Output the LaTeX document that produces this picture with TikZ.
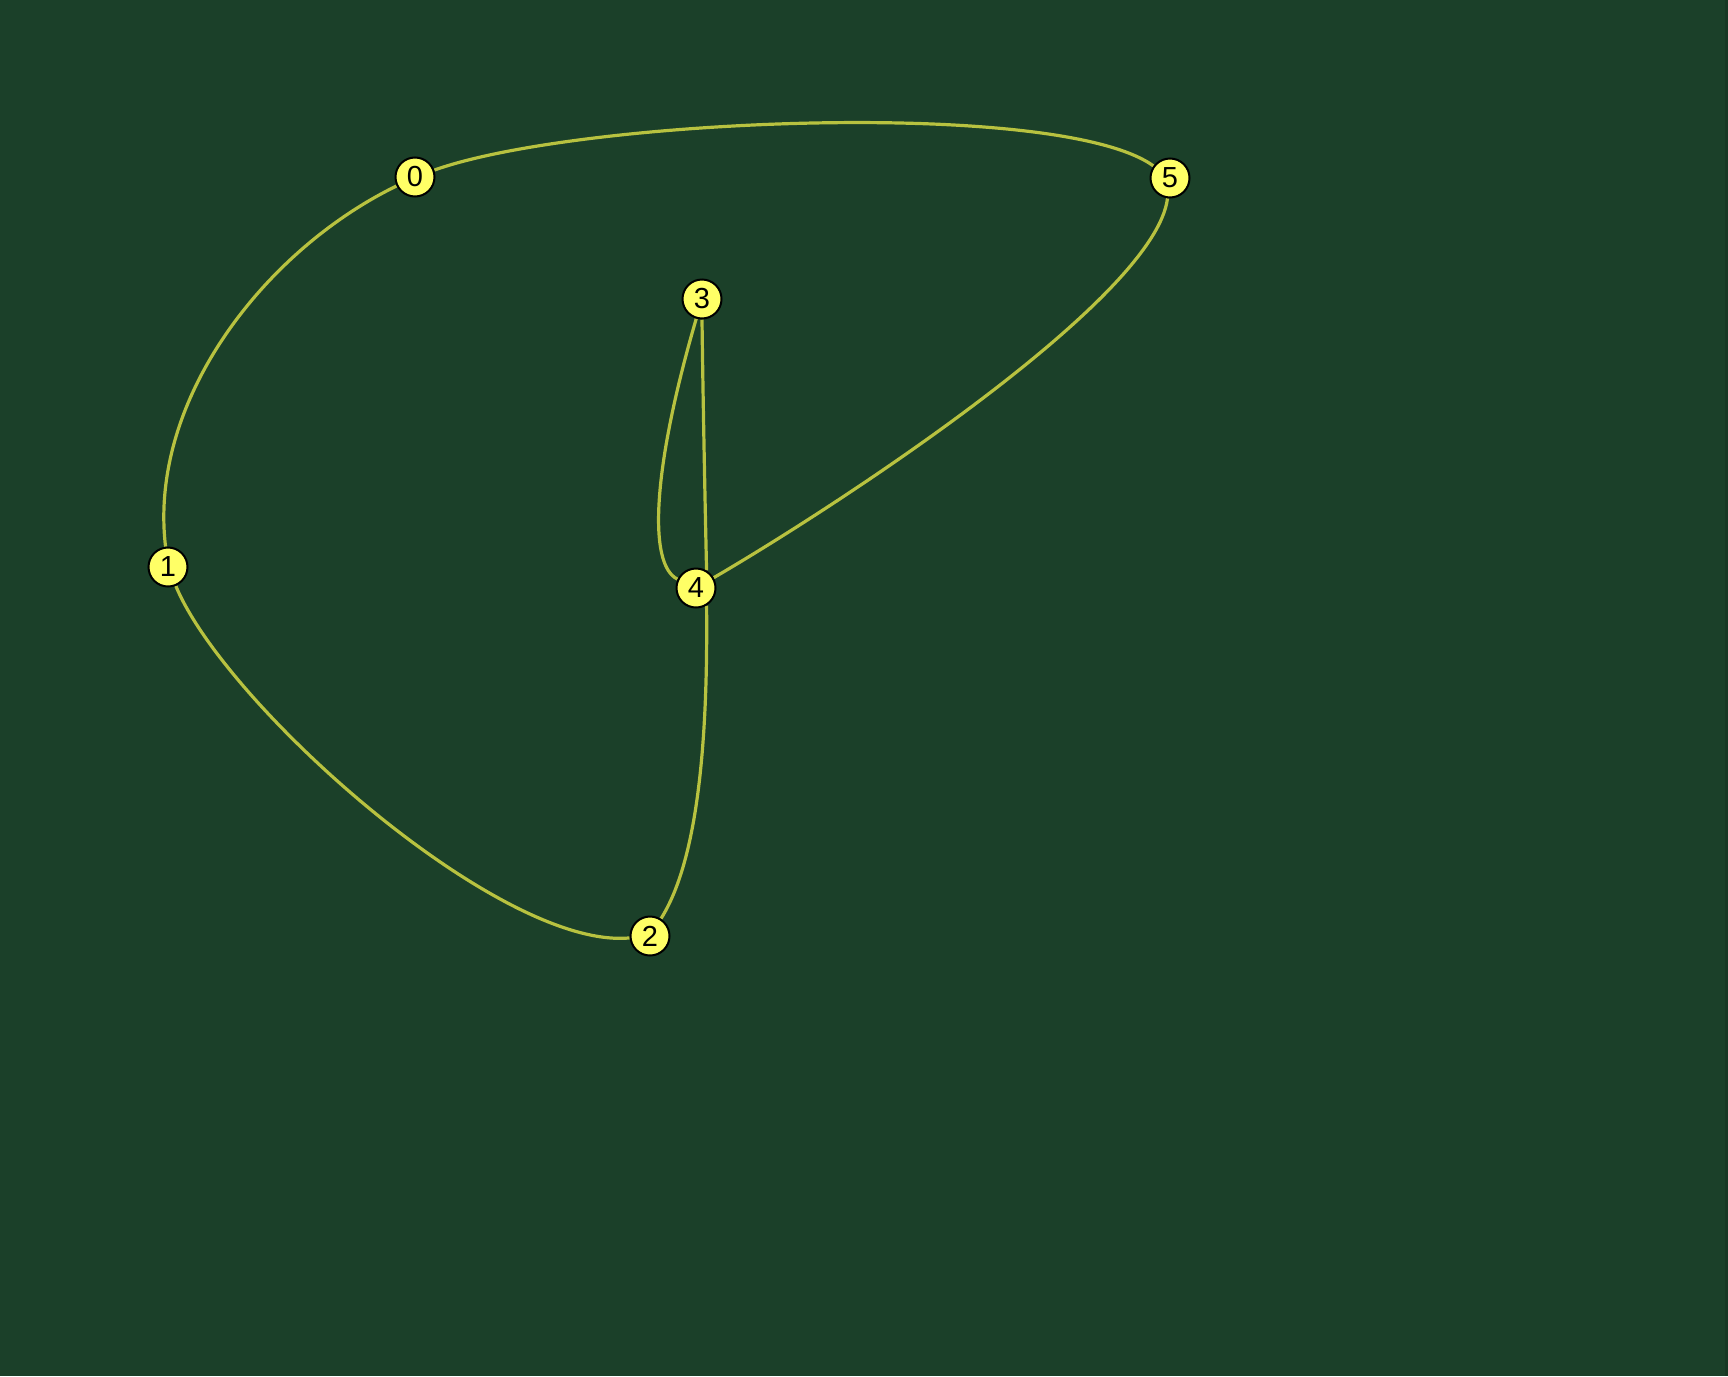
\documentclass[tikz,border=0pt]{standalone}
\usepackage{fontspec}
\setmainfont{Liberation Sans}
\usetikzlibrary{positioning, backgrounds}
\definecolor{boardgreen}{RGB}{27,64,41}
\definecolor{boardedge}{RGB}{24,56,36}
\definecolor{wirelime}{RGB}{184,194,64}
\definecolor{dotyellow}{RGB}{255,255,102}

\begin{document}
\begin{tikzpicture}[
    x=0.5pt, y=-0.5pt,
    vertex/.style={circle, draw=black, line width=1pt, fill=dotyellow, minimum size=19.5pt, inner sep=0pt, font=\fontsize{14.5}{16}\selectfont},
    wire/.style={draw=wirelime, line width=1.6pt}
]
\useasboundingbox (0,0) rectangle (1728,1376);
\node[vertex] (v0) at (415,177) {0};
\node[vertex] (v1) at (168,567) {1};
\node[vertex] (v2) at (650,936) {2};
\node[vertex] (v3) at (702,299) {3};
\node[vertex] (v4) at (696,588) {4};
\node[vertex] (v5) at (1170,178) {5};
\begin{scope}[on background layer]
\fill[boardgreen] (0,0) rectangle (1728,1376);
\fill[boardedge] (1725,0) rectangle (1728,1376);
% curved edges
\draw[wire] (v0) .. controls (580,118) and (1060,98) .. (v5);
\draw[wire] (v0) .. controls (265,250) and (148,400) .. (v1);
\draw[wire] (v1) .. controls (225,705) and (500,950) .. (v2);
\draw[wire] (v4.-59) .. controls (708,740) and (698,860) .. (v2);
\draw[wire] (v3.south) .. controls (703,400) and (705,500) .. (v4.59);
\draw[wire] (v3) .. controls (652,470) and (648,565) .. (v4);
\draw[wire] (v4) .. controls (830,510) and (1155,300) .. (v5);
\end{scope}
\end{tikzpicture}
\end{document}
